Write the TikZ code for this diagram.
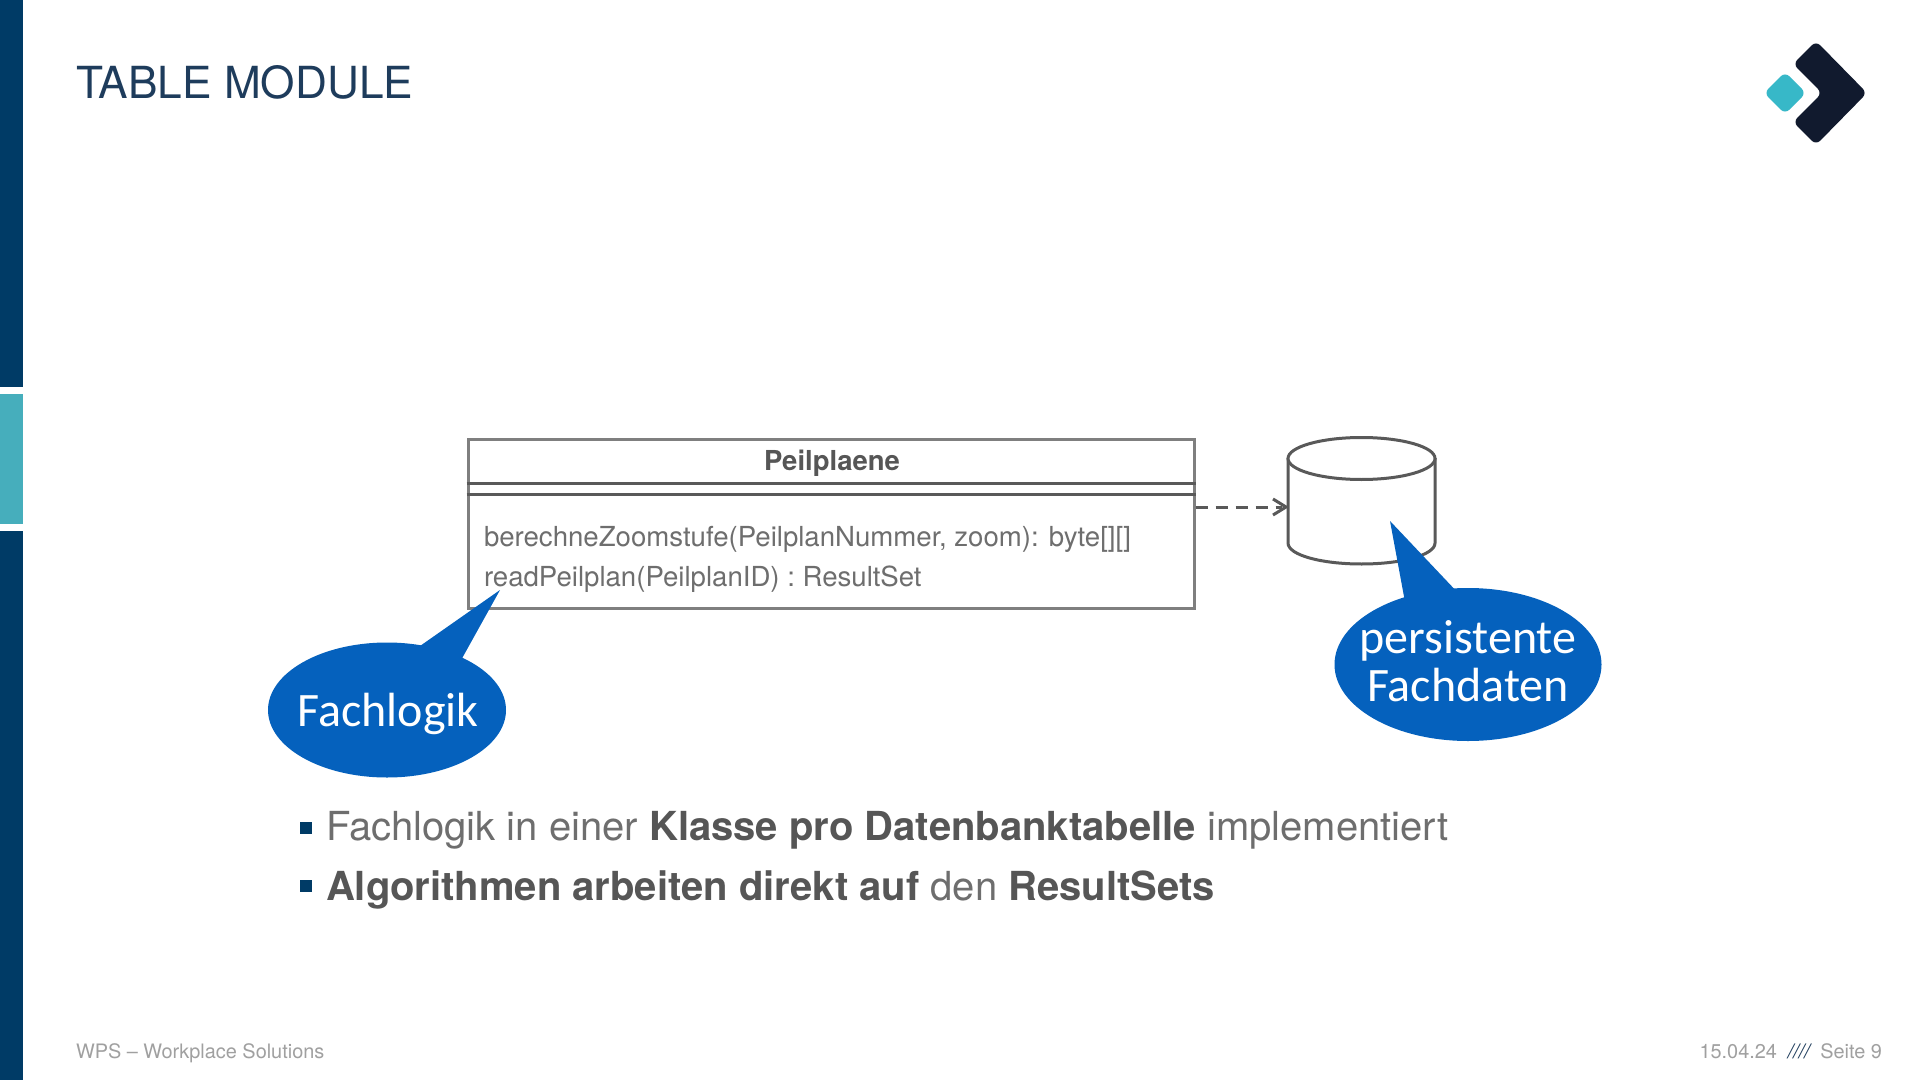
\documentclass[tikz,border=0pt]{standalone}
\usepackage{fontspec}
\setmainfont{TeX Gyre Heros}
\newfontfamily\calloutfont{Carlito}
\usetikzlibrary{shapes.geometric,arrows.meta}
\definecolor{navy}{HTML}{003B66}
\definecolor{barteal}{HTML}{46AEBC}
\definecolor{logoteal}{HTML}{37B8C8}
\definecolor{logodark}{HTML}{111A2E}
\definecolor{titlenavy}{HTML}{1E3C5C}
\definecolor{bubble}{HTML}{0561BD}
\definecolor{bodygrey}{HTML}{6E6E6E}
\definecolor{boldgrey}{HTML}{565656}
\definecolor{footgrey}{HTML}{A0A0A0}
\definecolor{outline}{HTML}{7F7F7F}
\definecolor{darkline}{HTML}{595959}
\newcommand{\bstr}[1]{\textcolor{boldgrey}{\textbf{#1}}}
\tikzset{
  x=0.5pt,y=-0.5pt,
  txt/.style={anchor=base west,inner sep=0pt,outer sep=0pt},
  classbox/.style={draw=outline,line width=1.5pt,fill=white,inner sep=0pt,minimum width=363pt,minimum height=84.5pt},
  sep/.style={draw=darkline,line width=1.5pt},
  cyl/.style={draw=darkline,line width=1.5pt},
  callout/.style={ellipse,fill=bubble,inner sep=0pt,outer sep=0pt},
  calltxt/.style={inner sep=0pt,text=white,align=center,font=\calloutfont\fontsize{24}{24}\selectfont},
  tail/.style={fill=bubble,draw=none},
  bulletsq/.style={fill=navy,inner sep=0pt,minimum size=5.8pt},
  bodytxt/.style={txt,text=bodygrey,font=\fontsize{20}{22}\selectfont},
  classtxt/.style={txt,text=bodygrey,font=\fontsize{13.8}{16}\selectfont},
  foot/.style={txt,text=footgrey,font=\fontsize{9.95}{12}\selectfont}
}
\begin{document}
\begin{tikzpicture}
\useasboundingbox (0,0) rectangle (1920,1080);
\fill[white] (0,0) rectangle (1920,1080);
% side bar
\fill[navy] (0,0) rectangle (23,387);
\fill[barteal] (0,394) rectangle (23,524);
\fill[navy] (0,531) rectangle (23,1080);
% title
\node[txt,text=titlenavy,font=\fontsize{22.1}{26}\selectfont] (title) at (76,99) {TABLE MODULE};
% logo
\fill[logoteal,rounded corners=3pt] (1785,72) -- (1806,93) -- (1785,114) -- (1764,93) -- cycle;
\fill[logodark,rounded corners=3pt] (1816,41) -- (1867,93) -- (1816,145) -- (1793,122) -- (1822,93) -- (1793,64) -- cycle;
% class
\node[classbox] (box) at (831,523.5) {};
\draw[sep] (box.west |- 0,483) -- (box.east |- 0,483);
\draw[sep] (box.west |- 0,494) -- (box.east |- 0,494);
\node[txt,anchor=base,text=boldgrey,font=\bfseries\fontsize{13.75}{16}\selectfont] (cname) at (832,470) {Peilplaene};
\node[classtxt] (m1) at (484,546) {berechneZoomstufe(PeilplanNummer, zoom): byte[][]};
\node[classtxt] (m2) at (484,586) {readPeilplan(PeilplanID) : ResultSet};
% database
\node[minimum width=73.5pt,minimum height=20pt,inner sep=0pt,outer sep=0pt] (db) at (1361.5,507) {};
\draw[cyl,fill=white] (1288,458) -- (1288,543) .. controls (1288,555) and (1321,564) .. (1361.5,564) .. controls (1402,564) and (1435,555) .. (1435,543) -- (1435,458);
\draw[cyl,fill=white] (1361.5,458.5) ellipse [x radius=73.5,y radius=21];
% dependency
\draw[darkline,line width=1.5pt,dash pattern=on 6pt off 4pt] (box.east |- db.west) -- ([xshift=-3pt]db.west);
\draw[darkline,line width=1.5pt] (1273,499) -- (1286,507) -- (1273,515);
% callouts
\fill[tail] (1390,521) -- (1405,602) -- (1460,595) -- cycle;
\node[callout,minimum width=133.5pt,minimum height=76.5pt] (c2) at (1468,664.5) {};
\node[calltxt] (c2t) at (1468,661) {persistente\\[0pt]Fachdaten};
\fill[tail] (500,590) -- (420,646) -- (460,662) -- cycle;
\node[callout,minimum width=119pt,minimum height=67.5pt] (c1) at (387,710) {};
\node[calltxt] (c1t) at (388,713.5) {Fachlogik};
% bullets
\node[bulletsq] (b1) at (306,828) {};
\node[bulletsq] (b2) at (306,886) {};
\node[bodytxt] (t1) at (326,840) {Fachlogik in einer \bstr{Klasse pro Datenbanktabelle} implementiert};
\node[bodytxt] (t2) at (326,900) {\bstr{Algorithmen arbeiten direkt auf} den \bstr{ResultSets}};
% footer
\node[foot] (f1) at (76,1058) {WPS – Workplace Solutions};
\node[foot,anchor=base east] (f3) at (1882,1058) {Seite 9};
\node[txt,anchor=base east,text=titlenavy,font=\itshape\fontsize{10}{12}\selectfont] (f2) at (1810,1058) {////};
\node[foot,anchor=base east] (f0) at (1777,1058) {15.04.24};
\end{tikzpicture}
\end{document}
